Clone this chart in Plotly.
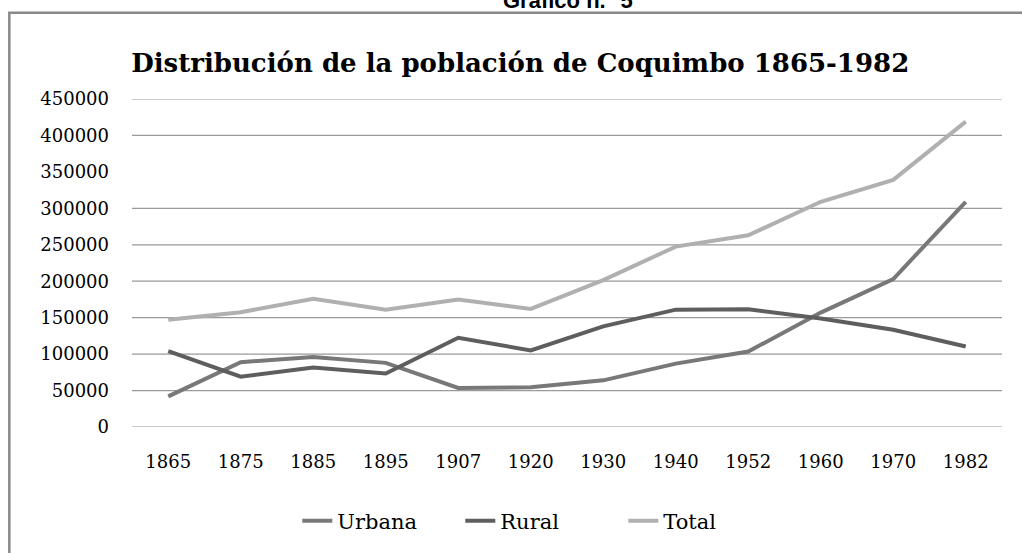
import plotly.graph_objects as go

years = ["1865", "1875", "1885", "1895", "1907", "1920", "1930", "1940", "1952", "1960", "1970", "1982"]
urbana = [42000, 89000, 96000, 88000, 53500, 54500, 64000, 87000, 103500, 157000, 203000, 309000]
rural = [104000, 69000, 81500, 73500, 122500, 105000, 138000, 161000, 161500, 149000, 133500, 110500]
total = [147000, 157500, 176000, 161000, 175000, 162000, 201500, 247500, 263000, 309000, 339000, 419000]

y_ticks = [0, 50000, 100000, 150000, 200000, 250000, 300000, 350000, 400000, 450000]
grid_vals = [0, 50000, 100000, 150000, 200000, 250000, 300000, 400000, 450000]

serif = "DejaVu Serif"

fig = go.Figure()

for name, vals, col in [("Urbana", urbana, "#787878"),
                        ("Rural", rural, "#5e5e5e"),
                        ("Total", total, "#b0b0b0")]:
    fig.add_trace(go.Scatter(x=years, y=vals, name=name, mode="lines",
                             line=dict(color=col, width=4)))

# gridlines (the 350000 line is absent in the original)
for g in grid_vals:
    fig.add_shape(type="line", xref="paper", yref="y", x0=0, x1=1, y0=g, y1=g,
                  line=dict(color="#9a9a9a", width=1.2), layer="below")

# outer frame
fig.add_shape(type="rect", xref="paper", yref="paper",
              x0=-0.141, x1=1.05, y0=-0.5, y1=1.263,
              line=dict(color="#888888", width=2.5), layer="below")

fig.add_annotation(text="<b>Gráfico n.° 5</b>", xref="paper", yref="paper",
                   x=0.501, y=1.255, xanchor="center", yanchor="bottom",
                   showarrow=False, font=dict(family="Liberation Sans", size=22, color="#000"))

fig.update_layout(
    width=1022, height=553,
    paper_bgcolor="white", plot_bgcolor="white",
    margin=dict(l=132, r=20, t=99, b=123),
    title=dict(text="<b>Distribución de la población de Coquimbo 1865-1982</b>",
               x=0.509, xanchor="center", y=1 - 63 / 553, yanchor="middle",
               font=dict(family=serif, size=26, color="#000")),
    font=dict(family=serif, size=18, color="#000"),
    showlegend=True,
    legend=dict(orientation="h", x=0.19, xanchor="left", y=-0.287, yanchor="middle",
                font=dict(family=serif, size=21, color="#000"),
                entrywidth=118, entrywidthmode="pixels"),
)

fig.update_xaxes(range=[-0.5, 11.5], showgrid=False, zeroline=False, showline=False,
                 ticks="", ticklabelstandoff=22, tickfont=dict(size=18))
fig.update_yaxes(range=[0, 450000], tickvals=y_ticks, ticktext=[str(v) for v in y_ticks],
                 showgrid=False, zeroline=False, showline=False,
                 ticks="", ticklabelstandoff=22, tickfont=dict(size=18))

fig.write_html("out.html", config={"displayModeBar": False},
               post_script="document.body.style.margin='0';")
